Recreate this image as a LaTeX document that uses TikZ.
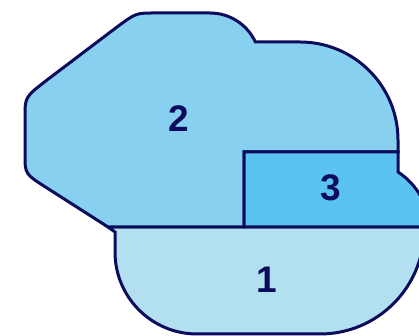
\documentclass[tikz,border=0pt]{standalone}
\usepackage{fontspec}
\setmainfont{Liberation Sans}
\definecolor{borderblue}{RGB}{12,12,92}
\definecolor{zoneone}{RGB}{179,224,240}
\definecolor{zonetwo}{RGB}{135,208,240}
\definecolor{zonethree}{RGB}{91,195,240}
\begin{document}
\begin{tikzpicture}[x=1pt,y=1pt,
  zone/.style={draw=borderblue,line width=3pt},
  zonelabel/.style={text=borderblue,font=\fontsize{37}{40}\selectfont\bfseries}]
\useasboundingbox (0,0) rectangle (419,336);
\clip (0,0) rectangle (419,336);

% zone 1, bottom
\draw[zone,fill=zoneone] (108,109) -- (115,104) -- (115,84)
  arc[start angle=180,end angle=270,radius=82] -- (320,2)
  arc[start angle=270,end angle=360,radius=104] -- (424,109) -- cycle;

% zone 2, the large one
\draw[zone,fill=zonetwo] (108,109) -- (47,148)
  .. controls (25,162) .. (25,181) -- (25,219)
  .. controls (25,239) .. (47,256) -- (117,309)
  .. controls (136,323) .. (155,323) -- (210,323)
  arc[start angle=90,end angle=25,radius=50] -- (300,294)
  arc[start angle=90,end angle=0,radius=98] -- (398,184)
  -- (244,184) -- (244,109) -- cycle;

% zone 3, right
\draw[zone,fill=zonethree] (244,184) -- (398,184) -- (398,164)
  arc[start angle=57,end angle=0,radius=69] -- (429,109) -- (244,109) -- cycle;

\node[zonelabel] (lab2) at (179,217) {2};
\node[zonelabel] (lab3) at (330.5,148.5) {3};
\node[zonelabel] (lab1) at (267,56) {1};
\end{tikzpicture}
\end{document}
